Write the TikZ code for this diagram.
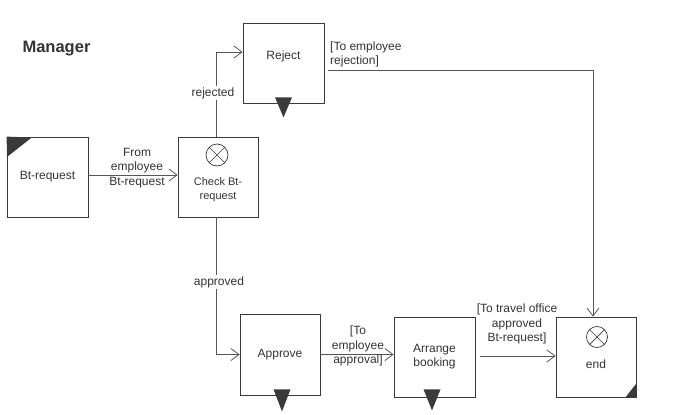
\documentclass[tikz,border=0pt]{standalone}
\usepackage{fontspec}
\setmainfont{Liberation Sans}
\usetikzlibrary{arrows.meta}
\definecolor{boxline}{HTML}{3A3A3A}
\definecolor{flowline}{HTML}{555555}
\definecolor{txt}{HTML}{333333}
\begin{document}
\begin{tikzpicture}[x=1pt,y=-1pt]
    \tikzstyle{task}=[draw=boxline, line width=0.8pt, rectangle, minimum width=80pt, minimum height=80pt, inner sep=0pt, text=txt, align=center]
    \tikzstyle{flow}=[draw=flowline, line width=0.8pt, -{Straight Barb[length=8pt,width=12pt]}]
    \tikzstyle{lbl}=[text=txt, align=center, inner sep=1pt, font=\fontsize{12}{14.2}\selectfont]
    \tikzstyle{darkmark}=[fill=boxline]
    \useasboundingbox (0,0) rectangle (678,415);
    \node[text=txt, font=\fontsize{16.5}{18}\selectfont\bfseries] (title) at (56.5,49){Manager};
    % activities
    \node[task, minimum width=81pt, font=\fontsize{12}{14.2}\selectfont] (btreq) at (47.5,177){Bt-request};
    \node[task] (check) at (218,177){};
    \node[task, minimum width=81pt] (reject) at (283.5,63){};
    \node[task, minimum height=81pt, font=\fontsize{12}{14.2}\selectfont] (approve) at (280,354.5){Approve};
    \node[task, minimum width=81pt, font=\fontsize{12}{14.2}\selectfont] (arrange) at (434.5,357){Arrange\\booking};
    \node[task] (endn) at (596,357){};
    \node[lbl, font=\fontsize{11}{14}\selectfont] (checktxt) at (218,190){Check Bt-\\request};
    \node[lbl] (rejecttxt) at (283.5,56){Reject};
    \node[lbl] (endtxt) at (596,364){end};
    % markers
    \fill[darkmark] (btreq.north west) -- ++(25,1) -- (7,157) -- cycle;
    \fill[darkmark] (endn.south east) -- ++(0,-14) -- ++(-11,14) -- cycle;
    \fill[darkmark] ([xshift=-8.5pt,yshift=6pt]reject.south) -- ++(17,0) -- ++(-8.5,20) -- cycle;
    \fill[darkmark] ([xshift=-6.5pt,yshift=6pt]approve.south) -- ++(17,0) -- ++(-8.5,22) -- cycle;
    \fill[darkmark] ([xshift=-11pt,yshift=8pt]arrange.south) -- ++(17,0) -- ++(-8.5,21) -- cycle;
    \draw[boxline, line width=0.7pt] (217,155) circle[radius=11pt] ++(-7.8,-7.8) -- ++(15.6,15.6) ++(0,-15.6) -- ++(-15.6,15.6);
    \draw[boxline, line width=0.7pt] (597,337) circle[radius=10.5pt] ++(-7.4,-7.4) -- ++(14.8,14.8) ++(0,-14.8) -- ++(-14.8,14.8);
    % connectors
    \draw[flow] ([yshift=2pt]btreq.east) -- ([yshift=2pt]check.west);
    \draw[flow] ([xshift=-2pt]check.north) |- ([yshift=11pt]reject.west);
    \draw[flow] ([xshift=4pt,yshift=-7pt]reject.east) -| ([xshift=-3pt]endn.north);
    \draw[flow] ([xshift=-2pt]check.south) |- (approve.west);
    \draw[flow] (approve.east) -- (approve.east -| arrange.west);
    \draw[flow] ([xshift=5pt,yshift=1pt]arrange.east) -- ([yshift=1pt]endn.west);
    % labels
    \node[lbl, fill=white] (rejlbl) at (213,93){rejected};
    \node[lbl, fill=white] (applbl) at (219,282){approved};
    \node[lbl] (fromlbl) at (137,168){From\\employee\\Bt-request};
    \node[lbl, anchor=west, align=left] (torej) at (329,54.5){[To employee\\rejection]};
    \node[lbl] (toapp) at (358,346){[To\\employee\\approval]};
    \node[lbl] (totravel) at (517,324){[To travel office\\approved\\Bt-request]};
\end{tikzpicture}
\end{document}
